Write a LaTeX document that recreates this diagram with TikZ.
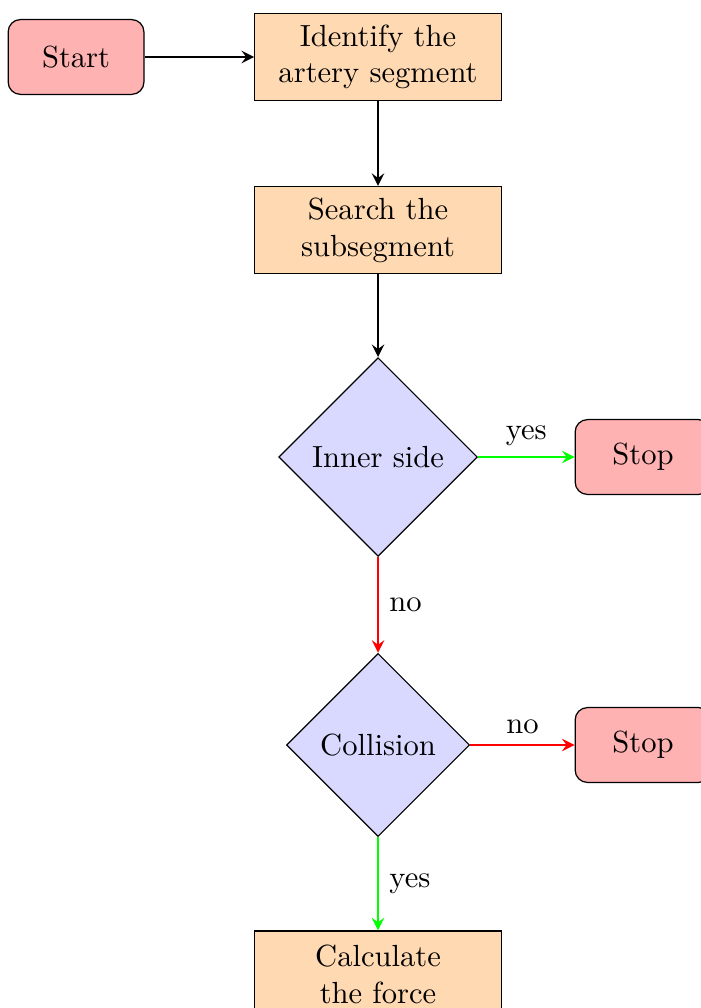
\documentclass[tikz,border=0pt]{standalone}
\usepackage{tikz}
\usetikzlibrary{shapes.geometric,arrows,arrows.meta}
\tikzset{
startstop/.style={rectangle, rounded corners, draw=black, fill=red!30, minimum width=1.56cm, minimum height=0.86cm},
process/.style={rectangle, draw=black, fill=orange!30, text width=2.6cm, align=center, minimum height=1cm},
decision/.style={diamond, aspect=1, inner sep=3.7pt, draw=black, fill=blue!15}
}

\begin{document}
\begin{tikzpicture}[auto]
\useasboundingbox (0,0) rectangle (8.046,-11.586);

\node (start) [startstop] at (0.874,-0.655) {Start};
\node (ident) [process] at (4.345,-0.655) {Identify the artery segment};
\node (search) [process] at (4.345,-2.644) {Search the subsegment};
\node (inner) [decision] at (4.345,-5.253) {Inner side};
\node (stopA) [startstop] at (7.391,-5.253) {Stop};
\node (coll) [decision] at (4.345,-8.563) {Collision};
\node (stopB) [startstop] at (7.391,-8.563) {Stop};
\node (force) [process] at (4.345,-11.2) {Calculate\\ the force};

\path [-stealth, thick]
    (start) edge (ident)
    (ident) edge (search)
    (search) edge (inner)
    (inner) edge [draw=green] node {yes} (stopA)
    (inner) edge [draw=red] node {no} (coll)
    (coll) edge [draw=red] node {no} (stopB)
    (coll) edge [draw=green] node {yes} (force);

\end{tikzpicture}
\end{document}
